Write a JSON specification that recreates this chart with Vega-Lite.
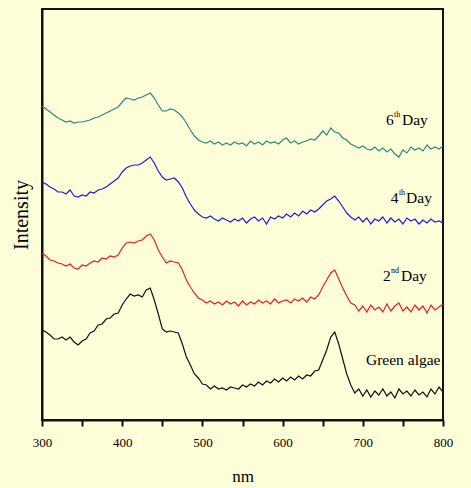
{
  "$schema": "https://vega.github.io/schema/vega-lite/v6.json",
  "width": 401,
  "height": 411,
  "autosize": "none",
  "padding": {"left": 42, "top": 9, "right": 28, "bottom": 68},
  "background": "#FEFED8",
  "config": {
    "view": {"stroke": "#111111", "strokeWidth": 2, "fill": "#FEFED8"},
    "font": "Liberation Serif"
  },
  "layer": [
    {
      "data": {"values": [
        {"nm":300,"green":90,"d2":167,"d4":238,"d6":314},
        {"nm":305,"green":88,"d2":164,"d4":236,"d6":311},
        {"nm":310,"green":85,"d2":160,"d4":233,"d6":308},
        {"nm":315,"green":81,"d2":159,"d4":231,"d6":305},
        {"nm":320,"green":81,"d2":157,"d4":228,"d6":302},
        {"nm":325,"green":83,"d2":156,"d4":228,"d6":300},
        {"nm":330,"green":80,"d2":154,"d4":226,"d6":298},
        {"nm":335,"green":83,"d2":156,"d4":230,"d6":299},
        {"nm":340,"green":78,"d2":152,"d4":224,"d6":297},
        {"nm":345,"green":75,"d2":151,"d4":223,"d6":298},
        {"nm":350,"green":79,"d2":155,"d4":225,"d6":298},
        {"nm":355,"green":81,"d2":154,"d4":224,"d6":299},
        {"nm":360,"green":87,"d2":157,"d4":228,"d6":300},
        {"nm":365,"green":89,"d2":159,"d4":227,"d6":302},
        {"nm":370,"green":95,"d2":158,"d4":230,"d6":303},
        {"nm":375,"green":96,"d2":162,"d4":231,"d6":305},
        {"nm":380,"green":101,"d2":161,"d4":233,"d6":307},
        {"nm":385,"green":102,"d2":164,"d4":236,"d6":309},
        {"nm":390,"green":106,"d2":163,"d4":239,"d6":311},
        {"nm":395,"green":107,"d2":165,"d4":242,"d6":313},
        {"nm":400,"green":115,"d2":172,"d4":248,"d6":318},
        {"nm":405,"green":121,"d2":177,"d4":252,"d6":322},
        {"nm":410,"green":126,"d2":178,"d4":254,"d6":321},
        {"nm":415,"green":124,"d2":177,"d4":255,"d6":320},
        {"nm":420,"green":125,"d2":179,"d4":255,"d6":322},
        {"nm":425,"green":123,"d2":180,"d4":257,"d6":323},
        {"nm":430,"green":130,"d2":184,"d4":260,"d6":325},
        {"nm":435,"green":132,"d2":186,"d4":263,"d6":327},
        {"nm":440,"green":120,"d2":180,"d4":257,"d6":322},
        {"nm":445,"green":106,"d2":170,"d4":249,"d6":315},
        {"nm":450,"green":91,"d2":163,"d4":243,"d6":309},
        {"nm":455,"green":88,"d2":157,"d4":240,"d6":309},
        {"nm":460,"green":89,"d2":159,"d4":241,"d6":311},
        {"nm":465,"green":88,"d2":158,"d4":242,"d6":310},
        {"nm":470,"green":87,"d2":157,"d4":238,"d6":307},
        {"nm":475,"green":76,"d2":150,"d4":232,"d6":303},
        {"nm":480,"green":63,"d2":140,"d4":223,"d6":297},
        {"nm":485,"green":55,"d2":133,"d4":216,"d6":290},
        {"nm":490,"green":46,"d2":127,"d4":210,"d6":284},
        {"nm":495,"green":42,"d2":122,"d4":206,"d6":280},
        {"nm":500,"green":36,"d2":120,"d4":203,"d6":278},
        {"nm":505,"green":35,"d2":117,"d4":202,"d6":277},
        {"nm":510,"green":31,"d2":119,"d4":204,"d6":279},
        {"nm":515,"green":34,"d2":116,"d4":201,"d6":276},
        {"nm":520,"green":31,"d2":118,"d4":199,"d6":278},
        {"nm":525,"green":32,"d2":115,"d4":202,"d6":275},
        {"nm":530,"green":30,"d2":119,"d4":200,"d6":277},
        {"nm":535,"green":33,"d2":116,"d4":198,"d6":275},
        {"nm":540,"green":32,"d2":118,"d4":201,"d6":278},
        {"nm":545,"green":31,"d2":114,"d4":199,"d6":276},
        {"nm":550,"green":35,"d2":119,"d4":202,"d6":277},
        {"nm":555,"green":33,"d2":115,"d4":197,"d6":274},
        {"nm":560,"green":36,"d2":118,"d4":201,"d6":279},
        {"nm":565,"green":34,"d2":116,"d4":203,"d6":276},
        {"nm":570,"green":38,"d2":120,"d4":199,"d6":278},
        {"nm":575,"green":35,"d2":117,"d4":202,"d6":275},
        {"nm":580,"green":39,"d2":119,"d4":196,"d6":279},
        {"nm":585,"green":37,"d2":116,"d4":203,"d6":277},
        {"nm":590,"green":41,"d2":121,"d4":201,"d6":278},
        {"nm":595,"green":38,"d2":117,"d4":204,"d6":276},
        {"nm":600,"green":42,"d2":119,"d4":202,"d6":280},
        {"nm":605,"green":39,"d2":120,"d4":206,"d6":282},
        {"nm":610,"green":43,"d2":117,"d4":203,"d6":277},
        {"nm":615,"green":40,"d2":121,"d4":207,"d6":279},
        {"nm":620,"green":44,"d2":119,"d4":204,"d6":276},
        {"nm":625,"green":41,"d2":122,"d4":209,"d6":278},
        {"nm":630,"green":45,"d2":118,"d4":206,"d6":279},
        {"nm":635,"green":44,"d2":123,"d4":210,"d6":281},
        {"nm":640,"green":49,"d2":121,"d4":208,"d6":280},
        {"nm":645,"green":50,"d2":125,"d4":211,"d6":284},
        {"nm":650,"green":60,"d2":133,"d4":215,"d6":289},
        {"nm":655,"green":70,"d2":140,"d4":219,"d6":285},
        {"nm":660,"green":83,"d2":147,"d4":221,"d6":292},
        {"nm":665,"green":88,"d2":150,"d4":224,"d6":288},
        {"nm":670,"green":76,"d2":141,"d4":219,"d6":287},
        {"nm":675,"green":61,"d2":132,"d4":213,"d6":282},
        {"nm":680,"green":46,"d2":124,"d4":207,"d6":280},
        {"nm":685,"green":35,"d2":117,"d4":203,"d6":276},
        {"nm":690,"green":27,"d2":115,"d4":200,"d6":274},
        {"nm":695,"green":31,"d2":109,"d4":203,"d6":272},
        {"nm":700,"green":24,"d2":114,"d4":198,"d6":274},
        {"nm":705,"green":30,"d2":108,"d4":202,"d6":271},
        {"nm":710,"green":23,"d2":115,"d4":196,"d6":270},
        {"nm":715,"green":29,"d2":110,"d4":201,"d6":273},
        {"nm":720,"green":25,"d2":113,"d4":199,"d6":269},
        {"nm":725,"green":31,"d2":108,"d4":203,"d6":272},
        {"nm":730,"green":24,"d2":116,"d4":197,"d6":268},
        {"nm":735,"green":28,"d2":109,"d4":202,"d6":271},
        {"nm":740,"green":22,"d2":114,"d4":198,"d6":266},
        {"nm":745,"green":31,"d2":117,"d4":201,"d6":263},
        {"nm":750,"green":26,"d2":109,"d4":196,"d6":270},
        {"nm":755,"green":29,"d2":113,"d4":202,"d6":267},
        {"nm":760,"green":24,"d2":108,"d4":199,"d6":273},
        {"nm":765,"green":30,"d2":115,"d4":201,"d6":270},
        {"nm":770,"green":25,"d2":110,"d4":196,"d6":272},
        {"nm":775,"green":28,"d2":114,"d4":200,"d6":269},
        {"nm":780,"green":23,"d2":107,"d4":197,"d6":275},
        {"nm":785,"green":31,"d2":115,"d4":201,"d6":271},
        {"nm":790,"green":26,"d2":110,"d4":198,"d6":273},
        {"nm":795,"green":33,"d2":113,"d4":199,"d6":271},
        {"nm":800,"green":28,"d2":116,"d4":197,"d6":274}
      ]},
      "transform": [{"fold": ["green", "d2", "d4", "d6"], "as": ["series", "v"]}],
      "mark": {"type": "line", "strokeWidth": 1.2, "clip": true},
      "encoding": {
        "x": {
          "field": "nm", "type": "quantitative",
          "scale": {"domain": [300, 800], "nice": false, "zero": false},
          "axis": {
            "title": "nm",
            "values": [300, 350, 400, 450, 500, 550, 600, 650, 700, 750, 800],
            "labelExpr": "datum.value % 100 == 0 ? datum.label : ''",
            "grid": false,
            "domainColor": "#111111", "domainWidth": 2,
            "tickColor": "#111111", "tickWidth": 2, "tickSize": 6,
            "labelFont": "Liberation Serif", "labelFontSize": 13, "labelColor": "#000000",
            "labelPadding": 10, "labelFlush": false,
            "titleFont": "Liberation Serif", "titleFontSize": 17, "titleFontWeight": "normal",
            "titleColor": "#000000", "titlePadding": 19
          }
        },
        "y": {
          "field": "v", "type": "quantitative",
          "scale": {"domain": [0, 411], "nice": false, "zero": false},
          "axis": {
            "title": "Intensity",
            "ticks": false, "labels": false, "grid": false,
            "domainColor": "#111111", "domainWidth": 2,
            "titleFont": "Liberation Serif", "titleFontSize": 20, "titleFontWeight": "normal",
            "titleColor": "#000000", "titlePadding": 11
          }
        },
        "color": {
          "field": "series", "type": "nominal",
          "scale": {"domain": ["green", "d2", "d4", "d6"], "range": ["#111111", "#ee1c24", "#1c1ce6", "#2b8a82"]},
          "legend": null
        }
      }
    },
    {
      "data": {"values": [
        {"t": "6", "nm": 728.9, "v": 295},
        {"t": "Day", "nm": 748.9, "v": 295},
        {"t": "4", "nm": 735, "v": 217},
        {"t": "Day", "nm": 754, "v": 217},
        {"t": "2", "nm": 725.2, "v": 139},
        {"t": "Day", "nm": 747.6, "v": 139},
        {"t": "Green algae", "nm": 704, "v": 55}
      ]},
      "mark": {"type": "text", "align": "left", "baseline": "alphabetic", "font": "Liberation Serif", "fontSize": 15.5, "color": "#000000"},
      "encoding": {
        "x": {"field": "nm", "type": "quantitative"},
        "y": {"field": "v", "type": "quantitative"},
        "text": {"field": "t"}
      }
    },
    {
      "data": {"values": [
        {"t": "th", "nm": 738.9, "v": 303},
        {"t": "th", "nm": 745, "v": 225},
        {"t": "nd", "nm": 735.2, "v": 147}
      ]},
      "mark": {"type": "text", "align": "left", "baseline": "alphabetic", "font": "Liberation Serif", "fontSize": 8, "color": "#000000"},
      "encoding": {
        "x": {"field": "nm", "type": "quantitative"},
        "y": {"field": "v", "type": "quantitative"},
        "text": {"field": "t"}
      }
    }
  ]
}
